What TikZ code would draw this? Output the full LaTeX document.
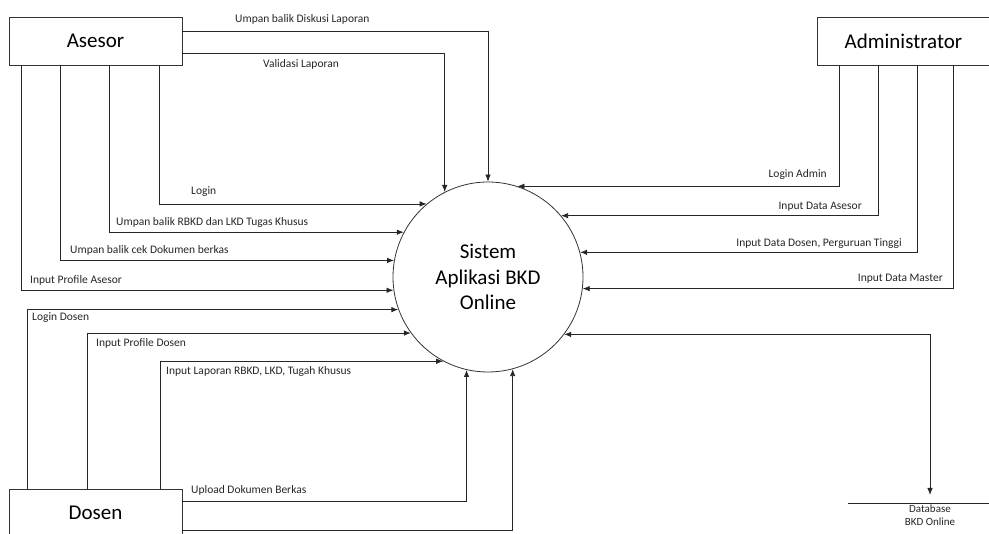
\documentclass[tikz,border=0pt]{standalone}
\usepackage{fontspec}
\setmainfont{Carlito}
\usetikzlibrary{arrows.meta}
\begin{document}
\begin{tikzpicture}[x=1pt, y=-1pt,
  entity_style/.style={draw=black!80, line width=0.8pt, minimum width=173pt, minimum height=48pt, inner sep=0pt, font=\fontsize{21}{25}\selectfont},
  process_style/.style={circle, draw=black!80, line width=0.8pt, minimum size=190pt, inner sep=0pt, align=center, font=\fontsize{21}{25.5}\selectfont},
  flow_style/.style={draw=black!85, line width=0.8pt, -{Latex[length=7pt,width=5.5pt]}},
  flowboth_style/.style={draw=black!85, line width=0.8pt, {Latex[length=7pt,width=5.5pt]}-{Latex[length=7pt,width=5.5pt]}},
  label_style/.style={inner sep=0pt, font=\fontsize{11.5}{13}\selectfont, text=black!85}]
\useasboundingbox (0,0) rectangle (989,534);
\node[entity_style] (asesor) at (95.5,41) {Asesor};
\node[entity_style] (admin) at (903.5,41) {Administrator};
\node[entity_style] (dosen) at (95.5,513) {Dosen};
\node[process_style] (sistem) at (488,277) {Sistem\\Aplikasi BKD\\Online};
\node[inner sep=0pt, anchor=north, align=center, font=\fontsize{11}{13}\selectfont, text=black!85] (db) at (930,505) {Database\\BKD Online};
\coordinate (db_l) at (848,503);
\coordinate (db_r) at (989,503);
\draw[line width=0.8pt, black!85] (db_l) -- (db_r);
\draw[flow_style] (asesor.east |- 0,31) -| (sistem.90);
\draw[flow_style] (asesor.east |- 0,53) -| (sistem.117);
\draw[flow_style] (asesor.south -| 159,0) |- (sistem.130);
\draw[flow_style] (asesor.south -| 109,0) |- (sistem.152);
\draw[flow_style] (asesor.south -| 60,0) |- (sistem.170);
\draw[flow_style] (asesor.south -| 21,0) |- (sistem.188);
\draw[flow_style] (dosen.north -| 27,0) |- (sistem.200);
\draw[flow_style] (dosen.north -| 87,0) |- (sistem.216);
\draw[flow_style] (dosen.north -| 160,0) |- (sistem.242);
\draw[flow_style] (dosen.east |- 0,501) -| (sistem.257);
\draw[flow_style] (dosen.east |- 0,530) -| (sistem.285);
\draw[flow_style] (admin.south -| 839,0) |- (sistem.72);
\draw[flow_style] (admin.south -| 878,0) |- (sistem.40);
\draw[flow_style] (admin.south -| 917,0) |- (sistem.15);
\draw[flow_style] (admin.south -| 953,0) |- (sistem.353);
\draw[flowboth_style] (sistem.323) -| ([yshift=10pt]db.north);
\node[label_style, anchor=base west] (l_diskusi) at (235,23) {Umpan balik Diskusi Laporan};
\node[label_style, anchor=base west] (l_validasi) at (263,68) {Validasi Laporan};
\node[label_style, anchor=base west] (l_login) at (191,195) {Login};
\node[label_style, anchor=base west] (l_rbkd) at (116,226) {Umpan balik RBKD dan LKD Tugas Khusus};
\node[label_style, anchor=base west] (l_cek) at (70,254) {Umpan balik cek Dokumen berkas};
\node[label_style, anchor=base west] (l_profasesor) at (30,284) {Input Profile Asesor};
\node[label_style, anchor=base west] (l_logindosen) at (32,321) {Login Dosen};
\node[label_style, anchor=base west] (l_profdosen) at (96,347) {Input Profile Dosen};
\node[label_style, anchor=base west] (l_laporan) at (166,375) {Input Laporan RBKD, LKD, Tugah Khusus};
\node[label_style, anchor=base west] (l_upload) at (191,494) {Upload Dokumen Berkas};
\node[label_style, anchor=base east] (l_loginadmin) at (827,178) {Login Admin};
\node[label_style, anchor=base east] (l_dataasesor) at (862,210) {Input Data Asesor};
\node[label_style, anchor=base east] (l_datadosen) at (902,247) {Input Data Dosen, Perguruan Tinggi};
\node[label_style, anchor=base east] (l_master) at (943,282) {Input Data Master};
\end{tikzpicture}
\end{document}
